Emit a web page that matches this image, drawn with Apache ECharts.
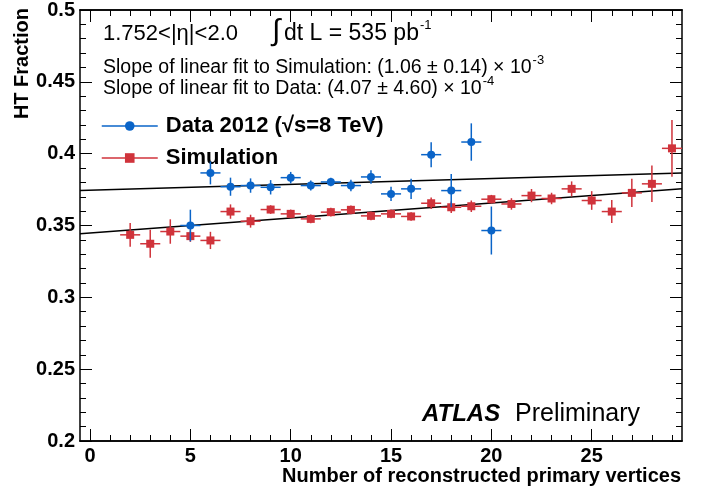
<!DOCTYPE html>
<html>
<head>
<meta charset="utf-8">
<script src="https://cdn.jsdelivr.net/npm/echarts@6/dist/echarts.min.js"></script>
<style>
  html, body { margin: 0; padding: 0; background: #fff; }
  #chart { width: 708px; height: 490px; }
</style>
</head>
<body>
<div id="chart"></div>
<script>
// values
const dataX = [5, 6, 7, 8, 9, 10, 11, 12, 13, 14, 15, 16, 17, 18, 19, 20];
const dataY = [0.350, 0.3866, 0.377, 0.3778, 0.3766, 0.3833, 0.3778, 0.3803, 0.3778, 0.3838,
               0.372, 0.3755, 0.3993, 0.3743, 0.4081, 0.3465];
const dataErr = [0.011, 0.008, 0.0063, 0.005, 0.005, 0.004, 0.0035, 0.003, 0.004, 0.0047,
                 0.005, 0.007, 0.0087, 0.0116, 0.013, 0.0167];

const simX = [2, 3, 4, 5, 6, 7, 8, 9, 10, 11, 12, 13, 14, 15, 16, 17, 18, 19, 20, 21, 22, 23, 24, 25, 26, 27, 28, 29];
const simY = [0.3435, 0.3373, 0.3458, 0.3426, 0.3396, 0.3597, 0.353, 0.3611, 0.3581, 0.3546,
              0.3593, 0.3609, 0.3567, 0.3581, 0.3563, 0.3655, 0.3627, 0.3634, 0.3683, 0.365,
              0.3708, 0.3688, 0.3755, 0.3674, 0.3597, 0.3727, 0.379, 0.4037];
const simErr = [0.0083, 0.0098, 0.0085, 0.004, 0.006, 0.005, 0.0045, 0.003, 0.003, 0.003,
                0.003, 0.003, 0.003, 0.003, 0.003, 0.004, 0.004, 0.004, 0.003, 0.004,
                0.0046, 0.004, 0.0052, 0.0065, 0.008, 0.0098, 0.0127, 0.0197];

// linear fits, end points at the edges of the frame
const dataFit = [[-0.5, 0.3743], [29.5, 0.3866]];
const simFit = [[-0.5, 0.3442], [29.5, 0.3755]];

const xMajorTicks = [0, 5, 10, 15, 20, 25];
const xMinorTicks = [0, 1, 2, 3, 4, 5, 6, 7, 8, 9, 10, 11, 12, 13, 14, 15, 16, 17, 18, 19,
                     20, 21, 22, 23, 24, 25, 26, 27, 28, 29];

const FONT = "'Liberation Sans', Arial, Helvetica, sans-serif";
const BLUE = '#0a64c8';
const RED = '#d0333b';

const chart = echarts.init(document.getElementById('chart'));

// width of a text, used to place the superscripts
const ctx = document.createElement('canvas').getContext('2d');
function textWidth(str, font) {
  ctx.font = font;
  return ctx.measureText(str).width;
}

function zipXY(xs, ys, es) {
  return xs.map((x, i) => es ? [x, ys[i], es[i]] : [x, ys[i]]);
}

function errorBars(color) {
  return function (params, api) {
    const x = api.value(0), y = api.value(1), e = api.value(2);
    const l = api.coord([x - 0.5, y]);
    const r = api.coord([x + 0.5, y]);
    const t = api.coord([x, y + e]);
    const b = api.coord([x, y - e]);
    return {
      type: 'group',
      children: [
        { type: 'line', shape: { x1: l[0], y1: l[1], x2: r[0], y2: r[1] }, style: { stroke: color, lineWidth: 1.5 } },
        { type: 'line', shape: { x1: t[0], y1: t[1], x2: b[0], y2: b[1] }, style: { stroke: color, lineWidth: 1.5 } }
      ]
    };
  };
}

function xAxisDef(position, ticks, len, withLabels) {
  return {
    type: 'value', min: -0.5, max: 29.5, position: position,
    axisLine: { show: true, onZero: false, lineStyle: { color: '#000', width: 1.5 } },
    axisTick: { show: true, inside: true, length: len, customValues: ticks, lineStyle: { color: '#000', width: 1 } },
    axisLabel: withLabels
      ? { show: true, customValues: ticks, color: '#000', fontWeight: 'bold', fontSize: 20, fontFamily: FONT, margin: 5 }
      : { show: false },
    splitLine: { show: false }
  };
}

function yAxisDef(position, withLabels) {
  return {
    type: 'value', min: 0.2, max: 0.5, interval: 0.05, position: position,
    axisLine: { show: true, onZero: false, lineStyle: { color: '#000', width: 1.5 } },
    axisTick: { show: true, inside: true, length: 12, lineStyle: { color: '#000', width: 1 } },
    minorTick: { show: true, splitNumber: 5, length: 6, lineStyle: { color: '#000', width: 1 } },
    axisLabel: withLabels
      ? { show: true, color: '#000', fontWeight: 'bold', fontSize: 20, fontFamily: FONT, margin: 5 }
      : { show: false },
    splitLine: { show: false },
    minorSplitLine: { show: false }
  };
}

const f19 = '19.5px ' + FONT;
const f22 = '22px ' + FONT;
const f23 = '23px ' + FONT;
const simText = 'Slope of linear fit to Simulation: (1.06 \u00b1 0.14) \u00d7 10';
const dataText = 'Slope of linear fit to Data: (4.07 \u00b1 4.60) \u00d7 10';
const lumiText = 'dt L = 535 pb';

function txt(x, y, text, font, extra) {
  return Object.assign({
    type: 'text', x: x, y: y, silent: true,
    style: { text: text, font: font, fill: '#000', align: 'left', verticalAlign: 'middle',
             textAlign: 'left', textVerticalAlign: 'middle' }
  }, extra || {});
}

function txtRight(x, y, text, font, extra) {
  return Object.assign({
    type: 'text', x: x, y: y, silent: true,
    style: { text: text, font: font, fill: '#000', align: 'right', verticalAlign: 'middle',
             textAlign: 'right', textVerticalAlign: 'middle' }
  }, extra || {});
}

const option = {
  animation: false,
  backgroundColor: '#fff',
  grid: { left: 80, right: 26, top: 8, bottom: 49 },
  xAxis: [
    xAxisDef('bottom', xMajorTicks, 12, true),
    xAxisDef('bottom', xMinorTicks, 6, false),
    xAxisDef('top', xMajorTicks, 12, false),
    xAxisDef('top', xMinorTicks, 6, false)
  ],
  yAxis: [
    yAxisDef('left', true),
    yAxisDef('right', false)
  ],
  legend: {
    data: ['Data 2012 (\u221as=8 TeV)', 'Simulation'],
    orient: 'vertical',
    left: 96, top: 110,
    itemWidth: 56, itemHeight: 12, itemGap: 10,
    lineStyle: { opacity: 1, width: 1.5 },
    textStyle: { color: '#000', fontWeight: 'bold', fontSize: 22, fontFamily: FONT, padding: [0, 0, 0, 3] },
    selectedMode: false
  },
  graphic: [
    txt(103, 34, '1.752<|\u03b7|<2.0', f22),
    txt(272, 32, '\u222b', '30px ' + FONT),
    txt(284, 34, lumiText, f23),
    txt(284 + textWidth(lumiText, f23) + 1, 25, '-1', '13px ' + FONT),
    txt(103, 68, simText, f19),
    txt(103 + textWidth(simText, f19) + 1, 60, '-3', '13px ' + FONT),
    txt(103, 89, dataText, f19),
    txt(103 + textWidth(dataText, f19) + 1, 81, '-4', '13px ' + FONT),
    txt(422, 414, 'ATLAS', 'italic bold 24px ' + FONT),
    txt(515, 414, 'Preliminary', '25px ' + FONT),
    txtRight(681, 476, 'Number of reconstructed primary vertices', 'bold 20px ' + FONT),
    txtRight(22, 8, 'HT Fraction', 'bold 20px ' + FONT, { rotation: Math.PI / 2 })
  ],
  series: [
    {
      name: 'fitData', type: 'line', data: dataFit, symbol: 'none', silent: true, z: 1,
      lineStyle: { color: '#000', width: 1.5 }
    },
    {
      name: 'fitSim', type: 'line', data: simFit, symbol: 'none', silent: true, z: 1,
      lineStyle: { color: '#000', width: 1.5 }
    },
    {
      name: 'simErr', type: 'custom', data: zipXY(simX, simY, simErr), renderItem: errorBars(RED),
      encode: { x: 0, y: 1 }, silent: true, z: 2
    },
    {
      name: 'Simulation', type: 'line', data: zipXY(simX, simY), symbol: 'rect', symbolSize: 8,
      itemStyle: { color: RED }, lineStyle: { color: RED, width: 1.5, opacity: 0 }, silent: true, z: 3
    },
    {
      name: 'dataErr', type: 'custom', data: zipXY(dataX, dataY, dataErr), renderItem: errorBars(BLUE),
      encode: { x: 0, y: 1 }, silent: true, z: 4
    },
    {
      name: 'Data 2012 (\u221as=8 TeV)', type: 'line', data: zipXY(dataX, dataY), symbol: 'circle', symbolSize: 8,
      itemStyle: { color: BLUE }, lineStyle: { color: BLUE, width: 1.5, opacity: 0 }, silent: true, z: 5
    }
  ]
};

chart.setOption(option);
</script>
</body>
</html>
